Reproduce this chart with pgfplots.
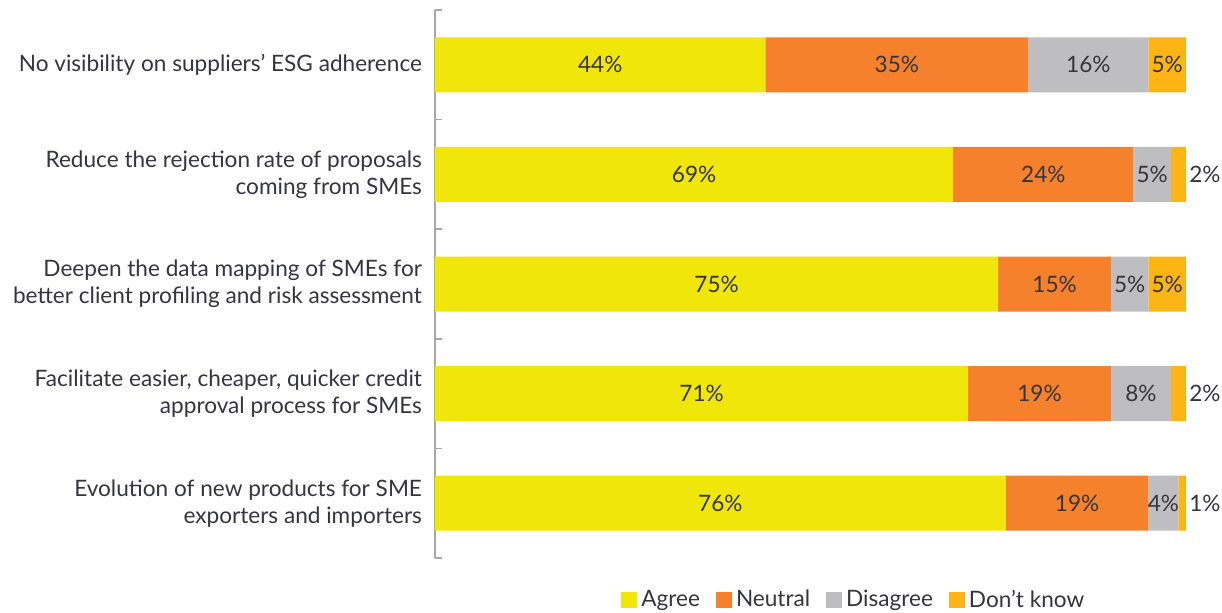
\documentclass[border=0pt]{standalone}
\usepackage{pgfplots}
\pgfplotsset{compat=1.18}
\usepackage{pgfplotstable}
\usepackage{fontspec}
\setmainfont{Lato}

\definecolor{agree}{HTML}{F0E60A}
\definecolor{neutral}{HTML}{F6812C}
\definecolor{disagree}{HTML}{BEBEC0}
\definecolor{dontknow}{HTML}{FDB515}
\definecolor{axisgray}{HTML}{A8A8A8}
\definecolor{labeltext}{HTML}{35353F}

% share of respondents per answer, rows top to bottom
\pgfplotstableread{
row agree neutral disagree dontknow
0   44    35      16       5
1   69    24      5        2
2   75    15      5        5
3   71    19      8        2
4   76    19      4        1
}\shares

\begin{document}
\begin{tikzpicture}
\path[use as bounding box] (-217.5pt,-27pt) rectangle (393.5pt,279pt);
\begin{axis}[
    xbar stacked,
    scale only axis,
    width=375.5pt, height=274pt,
    xmin=0, xmax=100,
    ymin=-0.5, ymax=4.5,
    y dir=reverse,
    bar width=27.5pt,
    axis x line=none,
    axis y line*=left,
    y axis line style={draw=axisgray, line width=0.75pt},
    ytick={0,...,4},
    yticklabels={
        No visibility on suppliers’ ESG adherence,
        {Reduce the rejection rate of proposals\\coming from SMEs},
        {Deepen the data mapping of SMEs for\\better client profiling and risk assessment},
        {Facilitate easier, cheaper, quicker credit\\approval process for SMEs},
        {Evolution of new products for SME\\exporters and importers}},
    major tick length=0pt,
    minor ytick={-0.5,0.5,...,4.5},
    minor tick length=3.5pt,
    tick align=inside,
    minor tick style={draw=axisgray, line width=0.75pt},
    yticklabel style={align=right, font=\fontsize{11.3}{13.5}\selectfont, text=labeltext, xshift=-3pt},
    clip=false,
    point meta=explicit,
    /pgf/number format/assume math mode=true,
    nodes near coords={\pgfmathprintnumber{\pgfplotspointmeta}\%},
    every node near coord/.append style={anchor=center,
        font=\fontsize{11.3}{13}\selectfont, text=labeltext},
    legend columns=4,
    legend style={at={(0.559,-0.0766)}, anchor=center, draw=none, fill=none,
        font=\fontsize{11.3}{13}\selectfont, text=labeltext,
        /tikz/every even column/.append style={column sep=6pt}},
    legend image code/.code={\fill[#1] (0pt,-4pt) rectangle (8pt,4pt);},
]
\addplot[fill=agree, draw=none] table[y=row, x=agree, meta=agree] {\shares};
\addplot[fill=neutral, draw=none] table[y=row, x=neutral, meta=neutral] {\shares};
\addplot[fill=disagree, draw=none] table[y=row, x=disagree, meta=disagree] {\shares};
% small shares get their label just right of the bar
\addplot[fill=dontknow, draw=none,
    visualization depends on={\thisrow{dontknow} \as \seg},
    every node near coord/.append style={
        xshift={ifthenelse(\seg<3,9.5+\seg*1.8775,0)}}]
    table[y=row, x=dontknow, meta=dontknow] {\shares};
\legend{Agree, Neutral, Disagree, Don’t know}
\end{axis}
\end{tikzpicture}
\end{document}
